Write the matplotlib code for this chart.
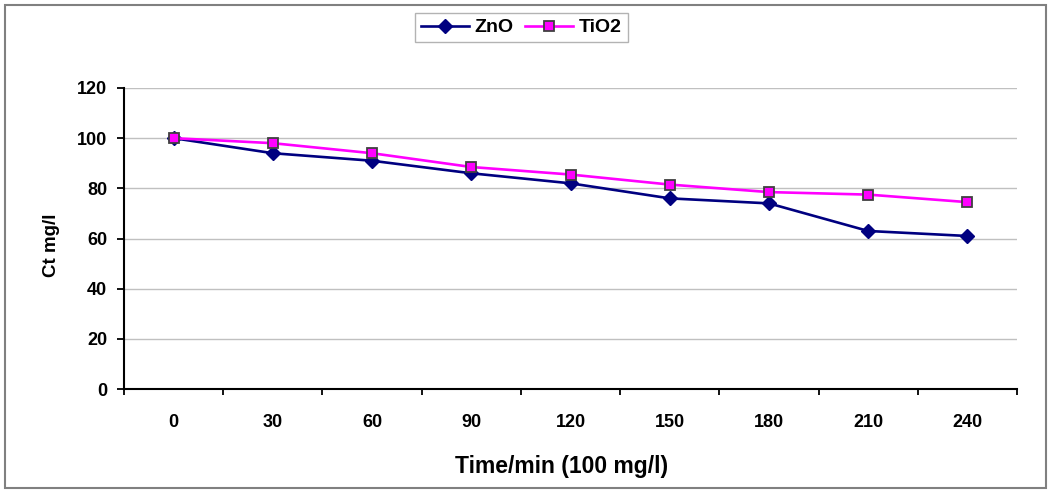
import matplotlib
matplotlib.use("Agg")
import matplotlib.pyplot as plt
from matplotlib.patches import Rectangle

times = ["0", "30", "60", "90", "120", "150", "180", "210", "240"]
zno = [100, 94, 91, 86, 82, 76, 74, 63, 61]
tio2 = [100, 98, 94, 88.5, 85.5, 81.5, 78.5, 77.5, 74.5]
yticks = [0, 20, 40, 60, 80, 100, 120]

plt.rcParams['font.family'] = ['Liberation Sans', 'DejaVu Sans']
W, H = 1051, 493
fig = plt.figure(figsize=(W/100, H/100), dpi=100)
fig.patches.append(Rectangle((5/W, 5/H), 1041/W, 483/H, transform=fig.transFigure,
                             fill=False, edgecolor='#808080', linewidth=1.5))

ax = fig.add_axes([124/W, (H-389)/H, (1017-124)/W, (389-88)/H])
x = list(range(len(times)))
ax.plot(x, zno, color='#000080', marker='D', markersize=6.8, linewidth=1.9,
        markerfacecolor='#000080', markeredgecolor='#000080', label='ZnO', zorder=3)
ax.plot(x, tio2, color='#FF00FF', marker='s', markersize=7.5, linewidth=1.9,
        markerfacecolor='#FF00FF', markeredgecolor='#404040', markeredgewidth=1.3,
        label='TiO2', zorder=3)

ax.set_xlim(-0.5, len(times) - 0.5)
ax.set_ylim(0, 120)
ax.set_yticks(yticks)
ax.set_yticklabels([str(v) for v in yticks], fontsize=13, fontweight='bold')
ax.set_xticks(x)
ax.set_xticklabels(times, fontsize=13, fontweight='bold')
ax.tick_params(axis='x', length=0, pad=18)
ax.set_xticks([i - 0.5 for i in range(len(times) + 1)], minor=True)
ax.tick_params(axis='x', which='minor', length=4.5, direction='out', width=1.3)
ax.tick_params(axis='y', length=5, direction='out', width=1.3, pad=7)
ax.grid(axis='y', color='#C0C0C0', linewidth=1)
ax.set_axisbelow(True)
for s in ['top', 'right']:
    ax.spines[s].set_visible(False)
ax.spines['left'].set_linewidth(1.5)
ax.spines['bottom'].set_linewidth(1.5)

ax.set_xlabel('Time/min (100 mg/l)', fontsize=16.5, fontweight='bold', va='center')
ax.xaxis.set_label_coords((562-124)/893, (389-467)/301)
ax.set_ylabel('Ct mg/l', fontsize=13.5, fontweight='bold', va='center')
ax.yaxis.set_label_coords((51-124)/893, (389-245)/301)

leg = fig.legend(loc='center', bbox_to_anchor=(521.5/W, (H-27.5)/H), ncol=2,
                 prop={'size': 14, 'weight': 'bold'}, frameon=True, fancybox=False,
                 edgecolor='#A0A0A0', handlelength=2.45, columnspacing=0.6,
                 handletextpad=0.3, borderpad=0.3, borderaxespad=0)
leg.get_frame().set_linewidth(1)

fig.savefig('out.png', dpi=100)
